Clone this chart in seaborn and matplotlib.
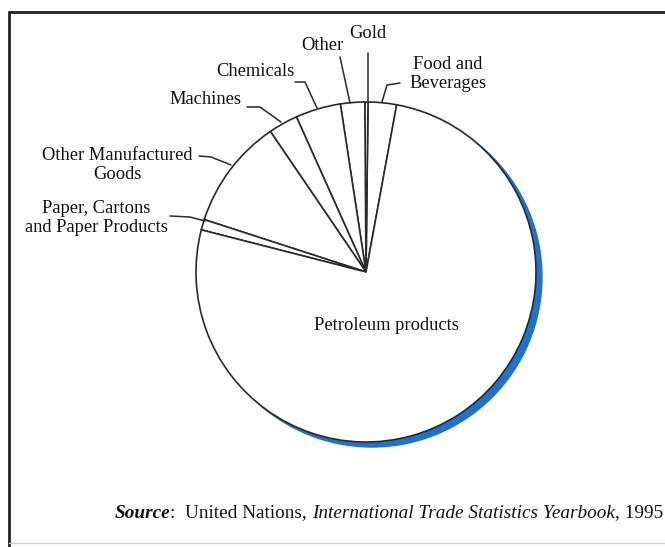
import matplotlib
matplotlib.use("Agg")
import matplotlib.pyplot as plt
import seaborn as sns
from matplotlib.patches import Circle

# export shares (%), going anticlockwise from "Food and Beverages"
categories = ["Food and Beverages", "Gold", "Other", "Chemicals", "Machines",
              "Other Manufactured Goods", "Paper, Cartons and Paper Products",
              "Petroleum products"]
shares = [2.7, 0.3, 2.3, 4.3, 2.8, 10.5, 1.0, 76.1]

label_texts = ["Food and\nBeverages", "Gold", "Other", "Chemicals", "Machines",
               "Other Manufactured\nGoods", "Paper, Cartons\nand Paper Products",
               "Petroleum products"]

sns.set_theme(style="white")
plt.rcParams['font.family'] = ['Liberation Serif', 'DejaVu Serif']

W, H = 665, 547
fig = plt.figure(figsize=(W / 100, H / 100), dpi=100)
ax = fig.add_axes([0, 0, 1, 1])
ax.set_xlim(0, W)
ax.set_ylim(0, H)
ax.set_aspect('equal')
ax.axis('off')

def Y(y):
    # picture rows are counted from the top
    return H - y

cx, cy, r = 366, 272, 170

# blue shadow behind the pie
ax.add_patch(Circle((cx + 6, Y(cy) - 5), r, color='#1e73c8', zorder=1))

ax.pie(shares, center=(cx, Y(cy)), radius=r, startangle=79.6, counterclock=True,
       colors=['white'] * len(shares),
       wedgeprops=dict(edgecolor='#2a2a2a', linewidth=1.2, zorder=2))
ax.set_xlim(0, W)
ax.set_ylim(0, H)

fs = 13.3
label_pos = [(448, 74), (368, 34), (322, 45), (255, 72), (205, 100),
             (117, 165), (96, 218), (386, 325)]
for txt, (x, y) in zip(label_texts, label_pos):
    ax.text(x, Y(y), txt, ha='center', va='center', fontsize=fs,
            linespacing=1.2, color='#111111', zorder=4)

# leader lines
leaders = [
    [(382, 102), (387, 85), (400, 83)],
    [(368, 53), (368, 102)],
    [(340, 57), (350, 103)],
    [(295, 82), (305, 82), (317, 108)],
    [(247, 107), (260, 107), (281, 122)],
    [(199, 156), (211, 157), (231, 165)],
    [(170, 216), (190, 217), (205, 221)],
]
for pts in leaders:
    xs = [p[0] for p in pts]
    ys = [Y(p[1]) for p in pts]
    ax.plot(xs, ys, color='#2a2a2a', lw=1.1, zorder=3)

# frame
ax.plot([9, 9], [Y(12), Y(547)], color='#222222', lw=2.0, zorder=5)
ax.plot([9, 665], [Y(12), Y(12)], color='#222222', lw=2.0, zorder=5)
ax.plot([9, 665], [Y(543), Y(543)], color='#cccccc', lw=1.0, zorder=5)

# source line, built piece by piece and right aligned
pieces = [("Source", 'italic', 'bold'), (":  United Nations, ", 'normal', 'normal'),
          ("International Trade Statistics Yearbook", 'italic', 'normal'),
          (", 1995", 'normal', 'normal')]
fig.canvas.draw()
renderer = fig.canvas.get_renderer()
inv = ax.transData.inverted()
x = 0.0
objs = []
for s, st, wt in pieces:
    t = ax.text(x, Y(513), s, ha='left', va='center', fontsize=13.9,
                style=st, weight=wt, color='#111111', zorder=4)
    bb = t.get_window_extent(renderer)
    w = inv.transform((bb.x1, 0))[0] - inv.transform((bb.x0, 0))[0]
    objs.append((t, x))
    x += w
shift = 663 - x
for t, x0 in objs:
    t.set_x(x0 + shift)

fig.savefig('out.png', dpi=100)
